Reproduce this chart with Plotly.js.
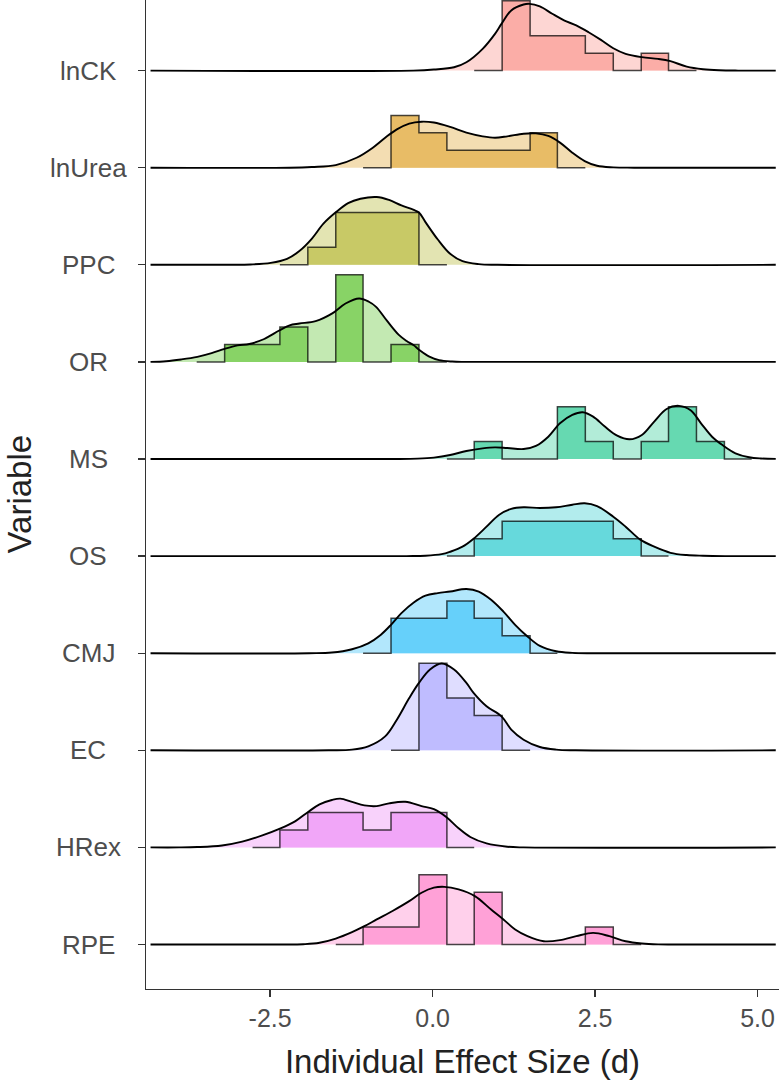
<!DOCTYPE html>
<html><head><meta charset="utf-8">
<script src="https://cdn.plot.ly/plotly-3.0.1.min.js"></script>
<style>html,body{margin:0;padding:0;background:#fff}#chart{width:779px;height:1088px}</style>
</head><body><div id="chart"></div>
<script>
// ---- data ----
const variables = ["lnCK","lnUrea","PPC","OR","MS","OS","CMJ","EC","HRex","RPE"];
const colors = ["#F8766D","#D89000","#A3A500","#39B600","#00BF7D","#00BFC4","#00B0F6","#9590FF","#E76BF3","#FF62BC"];
const binEdges = [-3.63,-3.20,-2.77,-2.35,-1.92,-1.49,-1.07,-0.64,-0.21,0.22,0.64,1.07,1.50,1.92,2.35,2.78,3.21,3.63,4.06,4.49,4.91];
const xTickVals = [-2.5, 0, 2.5, 5];
const xTickText = ["-2.5","0.0","2.5","5.0"];

// histogram counts, one per bin of binEdges
const countsLnCK   = [0,0,0,0,0,0,0,0,0,0,0,4,2,2,1,0,1,0,0,0];
const countsLnUrea = [0,0,0,0,0,0,0,3,2,1,1,1,2,0,0,0,0,0,0,0];
const countsPPC    = [0,0,0,0,1,3,3,3,0,0,0,0,0,0,0,0,0,0,0,0];
const countsOR     = [0,1,1,2,0,5,0,1,0,0,0,0,0,0,0,0,0,0,0,0];
const countsMS     = [0,0,0,0,0,0,0,0,0,0,1,0,0,3,1,0,1,3,1,0];
const countsOS     = [0,0,0,0,0,0,0,0,0,0,1,2,2,2,2,1,0,0,0,0];
const countsCMJ    = [0,0,0,0,0,0,0,2,2,3,2,1,0,0,0,0,0,0,0,0];
const countsEC     = [0,0,0,0,0,0,0,0,5,3,2,0,0,0,0,0,0,0,0,0];
const countsHRex   = [0,0,0,1,2,2,1,2,2,0,0,0,0,0,0,0,0,0,0,0];
const countsRPE    = [0,0,0,0,0,0,1,1,4,0,3,0,0,0,1,0,0,0,0,0];

// density curves (in histogram-count units)
const densXLnCK = [-4.34,-0.3,0.02,0.33,0.52,0.77,0.96,1.06,1.21,1.40,1.49,1.65,1.84,2.03,2.21,2.40,2.59,2.78,2.97,3.22,3.47,3.66,3.91,4.16,4.41,4.7,5.28];
const densYLnCK = [0,0,0.06,0.19,0.48,1.25,2.11,2.68,3.45,3.79,3.83,3.68,3.26,2.87,2.59,2.20,1.76,1.28,0.96,0.77,0.67,0.54,0.23,0.08,0.02,0,0];
const densXLnUrea = [-4.34,-2.2,-1.86,-1.49,-1.17,-0.92,-0.73,-0.55,-0.36,-0.17,0.02,0.27,0.52,0.77,0.96,1.15,1.40,1.59,1.78,1.96,2.15,2.34,2.53,2.78,3.1,5.28];
const densYLnUrea = [0,0,0.04,0.15,0.57,1.15,1.72,2.20,2.53,2.64,2.59,2.34,2.01,1.80,1.72,1.80,1.95,1.97,1.82,1.44,0.86,0.38,0.11,0.02,0,0];
const densXPPC = [-4.34,-3.1,-2.80,-2.49,-2.24,-2.05,-1.86,-1.68,-1.49,-1.30,-1.11,-0.86,-0.67,-0.48,-0.29,-0.21,-0.11,0.08,0.27,0.46,0.71,1.0,5.28];
const densYPPC = [0,0,0.02,0.11,0.34,0.79,1.49,2.36,3.01,3.54,3.79,3.89,3.72,3.41,3.15,3.0,2.45,1.45,0.63,0.21,0.04,0,0];
const densXOR = [-4.34,-4.1,-3.87,-3.62,-3.4,-3.2,-3.0,-2.82,-2.6,-2.36,-2.2,-2.05,-1.8,-1.55,-1.34,-1.13,-0.98,-0.87,-0.7,-0.52,-0.4,-0.29,-0.21,-0.05,0.1,0.3,0.5,5.28];
const densYOR = [0,0.04,0.14,0.29,0.5,0.75,0.95,1.03,1.3,1.8,2.1,2.2,2.34,2.77,3.35,3.64,3.45,3.16,2.35,1.55,1.2,0.95,0.7,0.3,0.1,0.02,0,0];
const densXMS = [-4.34,-0.6,-0.23,0.02,0.27,0.52,0.77,0.96,1.15,1.40,1.59,1.78,1.96,2.15,2.31,2.47,2.65,2.84,3.03,3.22,3.41,3.60,3.79,3.97,4.13,4.30,4.46,4.66,4.87,5.05,5.28];
const densYMS = [0,0,0.02,0.08,0.23,0.46,0.61,0.67,0.63,0.57,0.75,1.28,2.05,2.53,2.68,2.43,1.86,1.34,1.13,1.38,2.15,2.87,3.05,2.8,2.05,1.28,0.8,0.33,0.1,0.03,0.01];
const densXOS = [-4.34,-0.4,-0.11,0.14,0.27,0.46,0.63,0.83,1.02,1.21,1.40,1.65,1.90,2.15,2.34,2.53,2.78,2.97,3.19,3.41,3.66,3.91,4.16,4.5,5.28];
const densYOS = [0,0,0.02,0.11,0.25,0.54,1.0,1.69,2.36,2.71,2.80,2.76,2.80,2.95,3.03,2.87,2.26,1.69,0.96,0.54,0.19,0.06,0.02,0,0];
const densXCMJ = [-4.34,-1.9,-1.55,-1.24,-0.99,-0.80,-0.64,-0.48,-0.29,-0.11,0.08,0.27,0.52,0.71,0.90,1.09,1.27,1.46,1.65,1.90,2.15,2.5,5.28];
const densYCMJ = [0,0,0.04,0.23,0.57,1.05,1.63,2.30,2.91,3.30,3.45,3.54,3.68,3.54,3.07,2.39,1.63,0.96,0.42,0.11,0.02,0,0];
const densXEC = [-4.34,-1.6,-1.24,-0.99,-0.73,-0.55,-0.36,-0.21,-0.04,0.14,0.33,0.52,0.63,0.83,1.06,1.21,1.40,1.65,1.90,2.2,5.28];
const densYEC = [0,0,0.04,0.23,0.80,1.76,3.00,3.87,4.64,4.98,4.64,3.87,3.3,2.53,1.95,1.19,0.61,0.19,0.04,0,0];
const densXHRex = [-4.34,-3.9,-3.62,-3.24,-2.93,-2.62,-2.34,-2.11,-1.91,-1.74,-1.55,-1.42,-1.24,-1.05,-0.86,-0.67,-0.42,-0.17,0.02,0.21,0.40,0.58,0.83,1.15,1.40,5.28];
const densYHRex = [0,0,0.02,0.11,0.33,0.69,1.09,1.51,2.05,2.47,2.72,2.80,2.61,2.41,2.37,2.53,2.62,2.37,2.2,1.75,1.1,0.6,0.23,0.04,0,0];
const densXRPE = [-4.34,-2.3,-1.99,-1.74,-1.49,-1.24,-1.05,-0.86,-0.61,-0.36,-0.17,0.02,0.18,0.40,0.65,0.90,1.09,1.27,1.46,1.71,1.96,2.21,2.47,2.72,2.97,3.22,3.47,3.8,5.28];
const densYRPE = [0,0,0.02,0.10,0.34,0.71,1.05,1.44,1.94,2.49,2.97,3.26,3.31,3.16,2.78,2.01,1.44,0.86,0.48,0.19,0.25,0.48,0.67,0.48,0.19,0.06,0.01,0,0];

const allCounts = [countsLnCK,countsLnUrea,countsPPC,countsOR,countsMS,countsOS,countsCMJ,countsEC,countsHRex,countsRPE];
const allDensX = [densXLnCK,densXLnUrea,densXPPC,densXOR,densXMS,densXOS,densXCMJ,densXEC,densXHRex,densXRPE];
const allDensY = [densYLnCK,densYLnUrea,densYPPC,densYOR,densYMS,densYOS,densYCMJ,densYEC,densYHRex,densYRPE];

// ---- styling / construction ----
const unit = 0.1795; // height of one count in row units
function blend(hex, a){
  const r=parseInt(hex.slice(1,3),16), g=parseInt(hex.slice(3,5),16), b=parseInt(hex.slice(5,7),16);
  const f=c=>Math.round(255-(255-c)*a);
  return `rgb(${f(r)},${f(g)},${f(b)})`;
}
function rgba(hex, a){
  const r=parseInt(hex.slice(1,3),16), g=parseInt(hex.slice(3,5),16), b=parseInt(hex.slice(5,7),16);
  return `rgba(${r},${g},${b},${a})`;
}
const traces = [];
const nRows = variables.length;
variables.forEach((v,i)=>{
  const base = nRows-1-i;
  const col = colors[i];
  const dx = allDensX[i], dy = allDensY[i].map(y=>base+y*unit);
  traces.push({type:'scatter',mode:'lines',x:[dx[0],dx[dx.length-1]],y:[base,base],line:{width:0,color:'rgba(0,0,0,0)'},hoverinfo:'skip',showlegend:false});
  traces.push({type:'scatter',mode:'lines',x:dx,y:dy,fill:'tonexty',fillcolor:rgba(col,0.3),line:{width:0,shape:'spline',smoothing:1,color:'rgba(0,0,0,0)'},hoverinfo:'skip',showlegend:false});
  const c = allCounts[i];
  let f = c.findIndex(n=>n>0), l = c.length-1-[...c].reverse().findIndex(n=>n>0);
  const s = Math.max(f-1,0), e = Math.min(l+1,c.length-1);
  const hx=[binEdges[s]], hy=[base];
  for(let k=s;k<=e;k++){
    hx.push(binEdges[k],binEdges[k+1]);
    hy.push(base+c[k]*unit,base+c[k]*unit);
  }
  hx.push(binEdges[e+1]); hy.push(base);
  traces.push({type:'scatter',mode:'lines',x:hx,y:hy,fill:'toself',fillcolor:blend(col,0.6),line:{width:0,color:'rgba(0,0,0,0)'},hoverinfo:'skip',showlegend:false});
  traces.push({type:'scatter',mode:'lines',x:hx,y:hy,line:{width:1.5,color:'rgba(0,0,0,0.72)'},hoverinfo:'skip',showlegend:false});
  traces.push({type:'scatter',mode:'lines',x:dx,y:dy,line:{width:1.9,color:'#000',shape:'spline',smoothing:1},hoverinfo:'skip',showlegend:false});
});

const plotL = 146, plotW = 633;
const fam = 'Liberation Sans, Arial, sans-serif';
const annotations = variables.map((v,i)=>({
  text:v, xref:'paper', yref:'y', x:(88-plotL)/plotW, y:nRows-1-i, xanchor:'center', yanchor:'middle',
  showarrow:false, font:{family:fam, size:26, color:'#4D4D4D'}
}));
annotations.push({text:'Variable', xref:'paper', yref:'paper', x:(19-plotL)/plotW, y:0.5, textangle:-90,
  xanchor:'center', yanchor:'middle', showarrow:false, font:{family:fam, size:33, color:'#222'}});

const layout = {
  width:779, height:1088,
  margin:{l:plotL, r:0, t:0, b:99, pad:0},
  paper_bgcolor:'#fff', plot_bgcolor:'#fff',
  showlegend:false, hovermode:false,
  font:{family:fam},
  xaxis:{range:[-4.41,5.33], tickvals:xTickVals, ticktext:xTickText, ticks:'outside', ticklen:7, tickwidth:1.4, tickcolor:'#333',
    showline:true, linecolor:'#333', linewidth:1.4, showgrid:false, zeroline:false,
    tickfont:{size:25, color:'#4D4D4D'},
    title:{text:'Individual Effect Size (d)', font:{size:33, color:'#222'}, standoff:18}},
  yaxis:{range:[-0.458,9.727], tickvals:[0,1,2,3,4,5,6,7,8,9], showticklabels:false, ticks:'outside', ticklen:7, tickwidth:1.4, tickcolor:'#333',
    showline:true, linecolor:'#333', linewidth:1.4, showgrid:false, zeroline:false},
  annotations:annotations
};
Plotly.newPlot('chart', traces, layout, {staticPlot:true, displayModeBar:false});
</script>
</body></html>
